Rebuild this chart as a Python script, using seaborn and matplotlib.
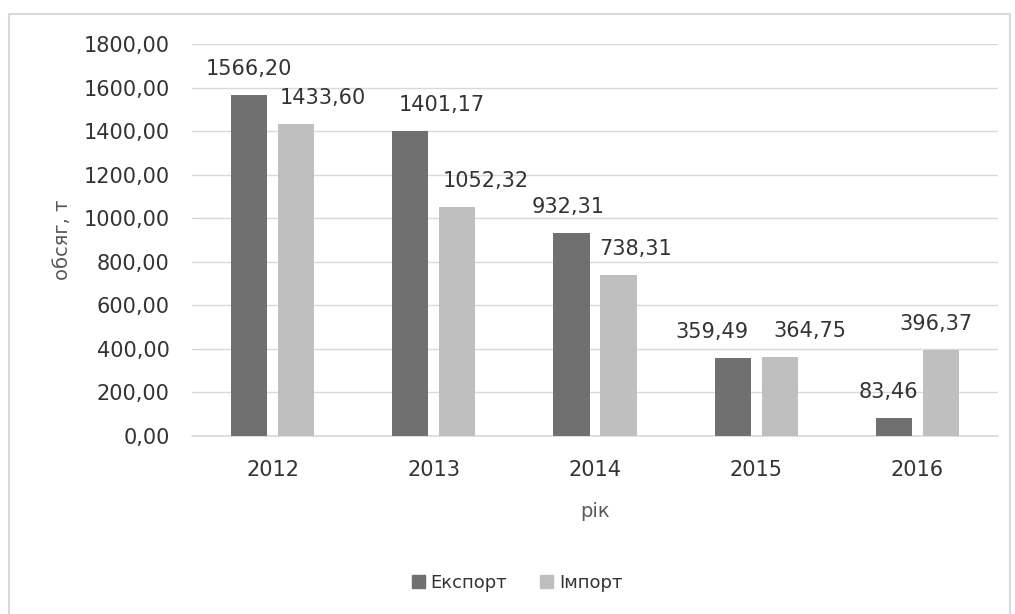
import matplotlib
matplotlib.use("Agg")
import matplotlib.pyplot as plt
from matplotlib.ticker import FuncFormatter, MultipleLocator
from matplotlib.patches import Rectangle
import seaborn as sns
import pandas as pd

years = ["2012", "2013", "2014", "2015", "2016"]
export_vals = [1566.20, 1401.17, 932.31, 359.49, 83.46]
import_vals = [1433.60, 1052.32, 738.31, 364.75, 396.37]
series_names = ["Експорт", "Імпорт"]
y_ticks_max = 1800
y_step = 200

# label offsets in pixels (style only)
export_dx = [0, 31, -3, -21, -5]
import_dx = [27, 28, 17, 30, -5]
label_dy = 26

df = pd.DataFrame({
    "рік": years * 2,
    "обсяг": export_vals + import_vals,
    "серія": [series_names[0]] * len(years) + [series_names[1]] * len(years),
})

sns.set_theme(style="white")
plt.rcParams["font.family"] = ["DejaVu Sans"]

fig = plt.figure(figsize=(10.15, 6.14), dpi=100)
ax = fig.add_axes([192 / 1015, 1 - 436 / 614, (998 - 192) / 1015, (436 - 44) / 614])

sns.barplot(data=df, x="рік", y="обсяг", hue="серія", order=years,
            hue_order=series_names, palette=["#707070", "#bfbfbf"],
            width=0.583, gap=0.233, ax=ax, legend=False, saturation=1,
            linewidth=0)

ax.set_ylim(0, y_ticks_max)
ax.yaxis.set_major_locator(MultipleLocator(y_step))
ax.yaxis.set_major_formatter(FuncFormatter(lambda v, p: f"{v:.2f}".replace(".", ",")))
ax.grid(axis="y", color="#d9d9d9", linewidth=1)
ax.axhline(0, color="#d9d9d9", linewidth=1.2, clip_on=False, zorder=0.5)
ax.set_axisbelow(True)
for s in ax.spines.values():
    s.set_visible(False)
ax.tick_params(axis="both", length=0, labelsize=15, labelcolor="#333333")
ax.tick_params(axis="y", pad=16)
ax.tick_params(axis="x", pad=17)
ax.set_xlabel("рік", fontsize=14, color="#595959", labelpad=16)
ax.set_ylabel("обсяг, т", fontsize=14, color="#595959", labelpad=8)

for cont, vals, dxs in zip(ax.containers, [export_vals, import_vals], [export_dx, import_dx]):
    for bar, v, dx in zip(cont, vals, dxs):
        ax.annotate(f"{v:.2f}".replace(".", ","),
                    (bar.get_x() + bar.get_width() / 2, bar.get_height()),
                    xytext=(dx, label_dy), textcoords="offset pixels",
                    ha="center", va="center", fontsize=15, color="#333333")

handles = [Rectangle((0, 0), 1, 1, color=c) for c in ["#707070", "#bfbfbf"]]
fig.legend(handles, series_names, loc="center", bbox_to_anchor=(517 / 1015, 1 - 583 / 614),
           ncol=2, frameon=False, fontsize=13, handlelength=0.75, handleheight=0.75,
           handletextpad=0.3, columnspacing=1.8, labelcolor="#333333")

fig.patches.append(Rectangle((9 / 1015, -0.01), (1010 - 9) / 1015, 1 - 14 / 614 + 0.01,
                             transform=fig.transFigure, fill=False,
                             edgecolor="#d9d9d9", linewidth=1.5))

fig.savefig("out.png", dpi=100)
